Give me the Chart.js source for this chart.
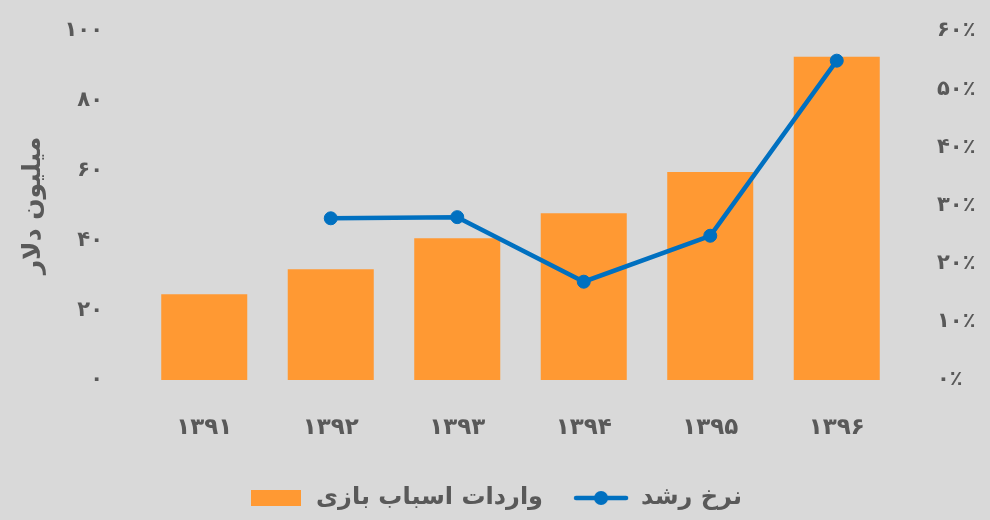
<!DOCTYPE html>
<html>
<head>
<meta charset="utf-8">
<script src="https://cdn.jsdelivr.net/npm/chart.js@4"></script>
<style>
  html, body { margin: 0; padding: 0; background: #d9d9d9; }
  #wrap { width: 990px; height: 520px; position: relative; }
</style>
</head>
<body>
<div id="wrap"><canvas id="grafico"></canvas></div>
<script>
const years = ["۱۳۹۱", "۱۳۹۲", "۱۳۹۳", "۱۳۹۴", "۱۳۹۵", "۱۳۹۶"];
const imports = [24.6, 31.7, 40.6, 47.8, 59.6, 92.6];
const growth = [null, 27.8, 28.0, 16.9, 24.8, 54.9];
const leftTicks = [0, 20, 40, 60, 80, 100];
const rightTicks = [0, 10, 20, 30, 40, 50, 60];

const nombreBarras = "واردات اسباب بازی";
const nombreLinea = "نرخ رشد";
const tituloEje = "میلیون دلار";

const naranja = "#ff9933";
const azul = "#0070c0";
const gris = "#595959";
const fuente = "'DejaVu Sans', sans-serif";

const faDigits = "۰۱۲۳۴۵۶۷۸۹";
const toFa = (v) => String(v).replace(/\d/g, (d) => faDigits[d]);

// legend markers
function marcaBarra() {
    const c = document.createElement("canvas");
    c.width = 50;
    c.height = 16;
    const ctx = c.getContext("2d");
    ctx.fillStyle = naranja;
    ctx.fillRect(0, 0, 50, 16);
    return c;
}

function marcaLinea() {
    const c = document.createElement("canvas");
    c.width = 56;
    c.height = 16;
    const ctx = c.getContext("2d");
    ctx.strokeStyle = azul;
    ctx.lineWidth = 4.5;
    ctx.lineCap = "round";
    ctx.beginPath();
    ctx.moveTo(3, 8);
    ctx.lineTo(53, 8);
    ctx.stroke();
    ctx.fillStyle = azul;
    ctx.beginPath();
    ctx.arc(28, 8, 7, 0, Math.PI * 2);
    ctx.fill();
    return c;
}

const config = {
    type: "bar",
    data: {
        labels: years,
        datasets: [
            {
                type: "line",
                label: nombreLinea,
                data: growth,
                yAxisID: "y1",
                borderColor: azul,
                backgroundColor: azul,
                borderWidth: 4.5,
                pointRadius: 6.5,
                pointBorderWidth: 1,
                pointBackgroundColor: azul,
                tension: 0,
            },
            {
                type: "bar",
                label: nombreBarras,
                data: imports,
                yAxisID: "y",
                backgroundColor: naranja,
                categoryPercentage: 1,
                barPercentage: 0.68,
            },
        ],
    },
    options: {
        responsive: true,
        maintainAspectRatio: false,
        animation: false,
        layout: {
            padding: { top: 31, bottom: 0, left: 0, right: 0 },
        },
        plugins: {
            tooltip: { enabled: false },
            legend: {
                position: "bottom",
                labels: {
                    usePointStyle: true,
                    pointStyleWidth: 56,
                    padding: 30,
                    color: gris,
                    font: { family: fuente, size: 24, weight: "bold" },
                    generateLabels: () => [
                        { text: nombreBarras, pointStyle: marcaBarra(), fontColor: gris, datasetIndex: 1, lineWidth: 0, strokeStyle: "transparent" },
                        { text: nombreLinea, pointStyle: marcaLinea(), fontColor: gris, datasetIndex: 0, lineWidth: 0, strokeStyle: "transparent" },
                    ],
                },
            },
        },
        scales: {
            x: {
                grid: { display: false, drawTicks: false },
                border: { display: false },
                ticks: {
                    color: gris,
                    padding: 34,
                    font: { family: fuente, size: 23, weight: "bold" },
                },
                afterFit: (s) => { s.height = 76; },
            },
            y: {
                position: "left",
                min: 0,
                max: 100,
                afterBuildTicks: (s) => { s.ticks = leftTicks.map((v) => ({ value: v })); },
                grid: { display: false, drawTicks: true, tickLength: 30 },
                border: { display: false },
                ticks: {
                    color: gris,
                    padding: 8,
                    font: { family: fuente, size: 21, weight: "bold" },
                    callback: (v) => toFa(v),
                },
                title: {
                    display: true,
                    text: tituloEje,
                    color: gris,
                    padding: { top: 18, bottom: 0 },
                    font: { family: fuente, size: 25, weight: "bold" },
                },
                afterFit: (s) => { s.width = 141; },
            },
            y1: {
                position: "right",
                min: 0,
                max: 60,
                afterBuildTicks: (s) => { s.ticks = rightTicks.map((v) => ({ value: v })); },
                grid: { display: false, drawTicks: true, tickLength: 30 },
                border: { display: false },
                ticks: {
                    color: gris,
                    padding: 7,
                    font: { family: fuente, size: 21, weight: "bold" },
                    callback: (v) => toFa(v) + "٪",
                },
                afterFit: (s) => { s.width = 90; },
            },
        },
    },
};

const grafico = new Chart(document.getElementById("grafico"), config);
</script>
</body>
</html>
